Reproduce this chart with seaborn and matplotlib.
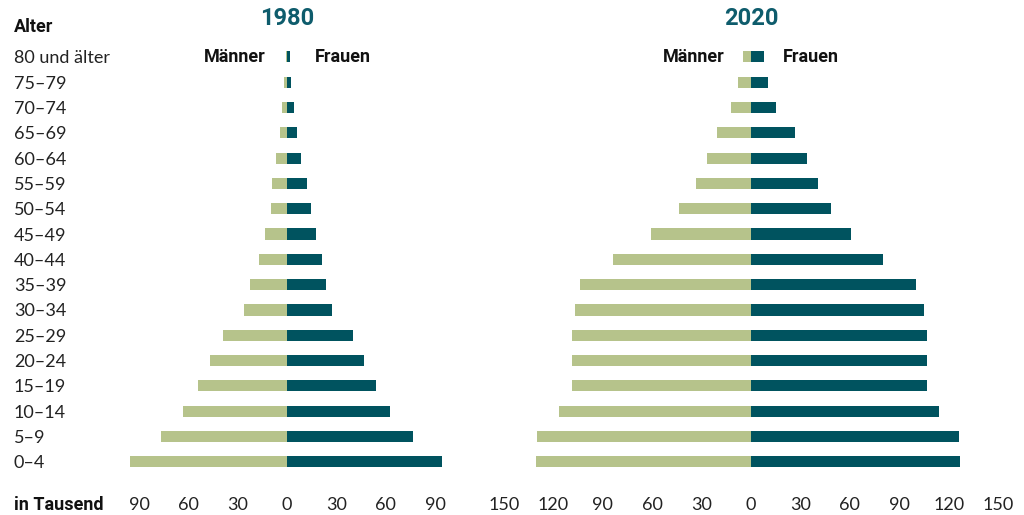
import matplotlib
matplotlib.use("Agg")
import matplotlib.pyplot as plt
from matplotlib import font_manager as fm
import seaborn as sns
import pandas as pd

# ---------------- data ----------------
ages = ["80 und älter", "75–79", "70–74", "65–69", "60–64", "55–59", "50–54",
        "45–49", "40–44", "35–39", "30–34", "25–29", "20–24", "15–19",
        "10–14", "5–9", "0–4"]
men_1980 = [0.9, 2.1, 3.3, 4.0, 6.4, 9.4, 10.0, 13.1, 17.3, 22.2, 26.4,
            39.2, 47.1, 54.4, 63.5, 76.3, 95.7]
women_1980 = [2.1, 2.6, 4.0, 5.8, 8.8, 11.9, 14.3, 17.9, 21.0, 24.0, 27.1,
              40.4, 47.1, 54.4, 62.9, 76.3, 94.5]
men_2020 = [4.7, 7.7, 12.0, 20.6, 26.7, 33.4, 43.7, 60.7, 83.8, 103.8, 106.9,
            108.7, 108.7, 108.7, 116.6, 130.0, 130.5]
women_2020 = [8.1, 10.5, 15.4, 26.7, 34.0, 40.7, 48.6, 60.7, 80.1, 100.2, 105.0,
              106.9, 106.9, 106.9, 114.1, 126.3, 126.9]
ticks_1980 = [-90, -60, -30, 0, 30, 60, 90]
ticks_2020 = [-150, -120, -90, -60, -30, 0, 30, 60, 90, 120, 150]
years = ["1980", "2020"]
legend_labels = ["Männer", "Frauen"]

# ---------------- style ----------------
sns.set_theme(style="white")
names = {f.name for f in fm.fontManager.ttflist}
BOLD = "Liberation Sans Narrow" if "Liberation Sans Narrow" in names else "Roboto"
plt.rcParams["font.family"] = ["Lato", "DejaVu Sans"]

MALE = "#b6c38b"
FEMALE = "#00535f"
TITLE = "#0e5c6c"
TEXT = "#222222"

fig = plt.figure(figsize=(10.24, 5.15), dpi=100)
W, H = 1024, 515
ax_bottom = 1 - 474.5 / H
ax_height = (474.5 - 44.2) / H
ax1 = fig.add_axes([122.5 / W, ax_bottom, 329 / W, ax_height])
ax2 = fig.add_axes([504 / W, ax_bottom, 494 / W, ax_height])

panels = [
    (ax1, men_1980, women_1980, ticks_1980, (-100, 100), years[0], -12.8, 17.0),
    (ax2, men_2020, women_2020, ticks_2020, (-150, 150), years[1], -15.8, 19.4),
]

for ax, men, women, ticks, xlim, year, mx, fx in panels:
    df_m = pd.DataFrame({"age": ages, "value": [-v for v in men]})
    df_f = pd.DataFrame({"age": ages, "value": women})
    sns.barplot(data=df_m, x="value", y="age", orient="h", color=MALE,
                width=0.44, saturation=1, ax=ax, order=ages, linewidth=0)
    sns.barplot(data=df_f, x="value", y="age", orient="h", color=FEMALE,
                width=0.44, saturation=1, ax=ax, order=ages, linewidth=0)
    ax.set_xlim(*xlim)
    ax.set_ylim(len(ages) - 0.5, -0.5)
    ax.set_xticks(ticks)
    ax.set_xticklabels([str(abs(t)) for t in ticks])
    ax.set_xlabel("")
    ax.set_ylabel("")
    ax.tick_params(axis="x", length=0, pad=16, labelsize=13, labelcolor=TEXT)
    for s in ax.spines.values():
        s.set_visible(False)
    ax.text(0, 1.06, year, transform=ax.get_xaxis_transform(), ha="center",
            va="center", fontsize=17, fontweight="bold", color=TITLE,
            family=[BOLD, "DejaVu Sans"])
    ax.text(mx, 0, legend_labels[0], ha="right", va="center", fontsize=13,
            fontweight="bold", color="#111111", family=[BOLD, "DejaVu Sans"])
    ax.text(fx, 0, legend_labels[1], ha="left", va="center", fontsize=13,
            fontweight="bold", color="#111111", family=[BOLD, "DejaVu Sans"])

# age labels on left panel
ax1.set_yticks(range(len(ages)))
ax1.set_yticklabels(ages)
pad_pt = (122.5 - 14) / 100 * 72
ax1.tick_params(axis="y", length=0, pad=pad_pt, labelsize=13, labelcolor=TEXT)
for lbl in ax1.get_yticklabels():
    lbl.set_ha("left")
ax2.set_yticks([])

fig.text(14 / W, 1 - 27 / H, "Alter", ha="left", va="center", fontsize=13,
         fontweight="bold", color="#111111", family=[BOLD, "DejaVu Sans"])
fig.text(14 / W, 1 - 505 / H, "in Tausend", ha="left", va="center", fontsize=13,
         fontweight="bold", color="#111111", family=[BOLD, "DejaVu Sans"])

fig.savefig("out.png", dpi=100)
